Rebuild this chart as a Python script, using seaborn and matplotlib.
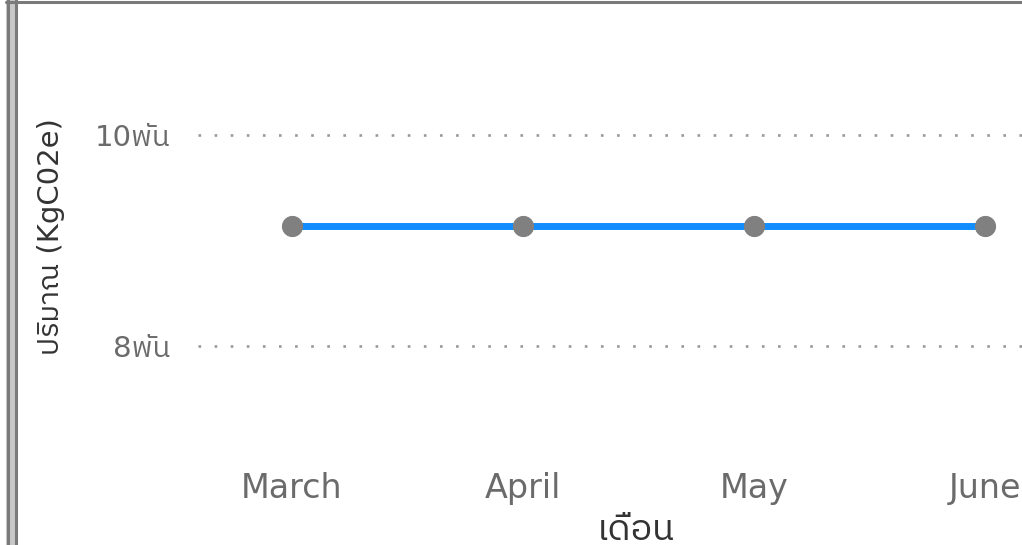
import matplotlib
matplotlib.use("Agg")
import matplotlib.pyplot as plt
import seaborn as sns
import pandas as pd
from matplotlib import font_manager as fm
from matplotlib.lines import Line2D
from matplotlib.patches import Rectangle
from matplotlib.ticker import FixedLocator

# data
months = ["March", "April", "May", "June"]
values = [9140, 9140, 9140, 9140]
ytick_vals = [8000, 10000]
ytick_labels = ["8พัน", "10พัน"]
xlabel = "เดือน"
ylabel = "ปริมาณ (KgC02e)"


def find_thai_font():
    # look for any installed font that has Thai glyphs
    try:
        from fontTools.ttLib import TTFont
    except ImportError:
        return None
    cands = sorted(fm.fontManager.ttflist,
                   key=lambda f: (0 if "thai" in f.name.lower() else 1, f.name))
    for f in cands:
        try:
            tt = TTFont(f.fname, fontNumber=0, lazy=True)
            cmap = tt.getBestCmap()
            if cmap and 0x0E14 in cmap and 0x0E1E in cmap:
                return f.name
        except Exception:
            pass
    return None


sns.set_theme(style="white")
names = {f.name for f in fm.fontManager.ttflist}
fams = [n for n in ["Liberation Sans Narrow", "DejaVu Sans"] if n in names]
thai = find_thai_font()
if thai:
    fams.append(thai)
plt.rcParams["font.family"] = fams

df = pd.DataFrame({"month": months, "value": values})

fig = plt.figure(figsize=(10.22, 5.45), dpi=100)
W, H = 1022, 545
ax = fig.add_axes([198 / W, 1 - 465 / H, 1 - 198 / W, (465 - 8) / H])

sns.lineplot(data=df, x="month", y="value", ax=ax, color="#118DFF",
             linewidth=5, marker="o", markersize=14.5,
             markerfacecolor="#808080", markeredgecolor="#808080", sort=False)

ax.set_xlim(-0.407, 3.16)
ax.set_ylim(6866, 11210)
ax.yaxis.set_major_locator(FixedLocator(ytick_vals))
ax.set_yticklabels(ytick_labels)
ax.grid(axis="y", color="#999999", linestyle=(0, (1, 5.1)), linewidth=1.9)
ax.grid(axis="x", visible=False)
for s in ax.spines.values():
    s.set_visible(False)

ax.tick_params(axis="x", length=0, pad=5, labelsize=24, labelcolor="#6b6b6b")
ax.tick_params(axis="y", length=0, pad=20, labelsize=21, labelcolor="#6b6b6b")

ax.set_xlabel(xlabel, fontsize=26, color="#333333")
ax.set_ylabel(ylabel, fontsize=21, color="#333333")
ax.xaxis.set_label_coords(0.5316, -0.105)
ax.yaxis.set_label_coords(-0.161, 0.5)

# frame of the visual container on the left/top
fig.add_artist(Rectangle((6 / W, 0), 11 / W, 1, transform=fig.transFigure,
                         facecolor="#c8c8c8", edgecolor="none"))
for x in (7.5, 15.5):
    fig.add_artist(Line2D([x / W, x / W], [0, 1], transform=fig.transFigure,
                          color="#7a7a7a", linewidth=2.2))
fig.add_artist(Line2D([6 / W, 1], [1 - 1.5 / H, 1 - 1.5 / H],
                      transform=fig.transFigure, color="#7a7a7a", linewidth=2.2))

fig.savefig("out.png", dpi=100)
